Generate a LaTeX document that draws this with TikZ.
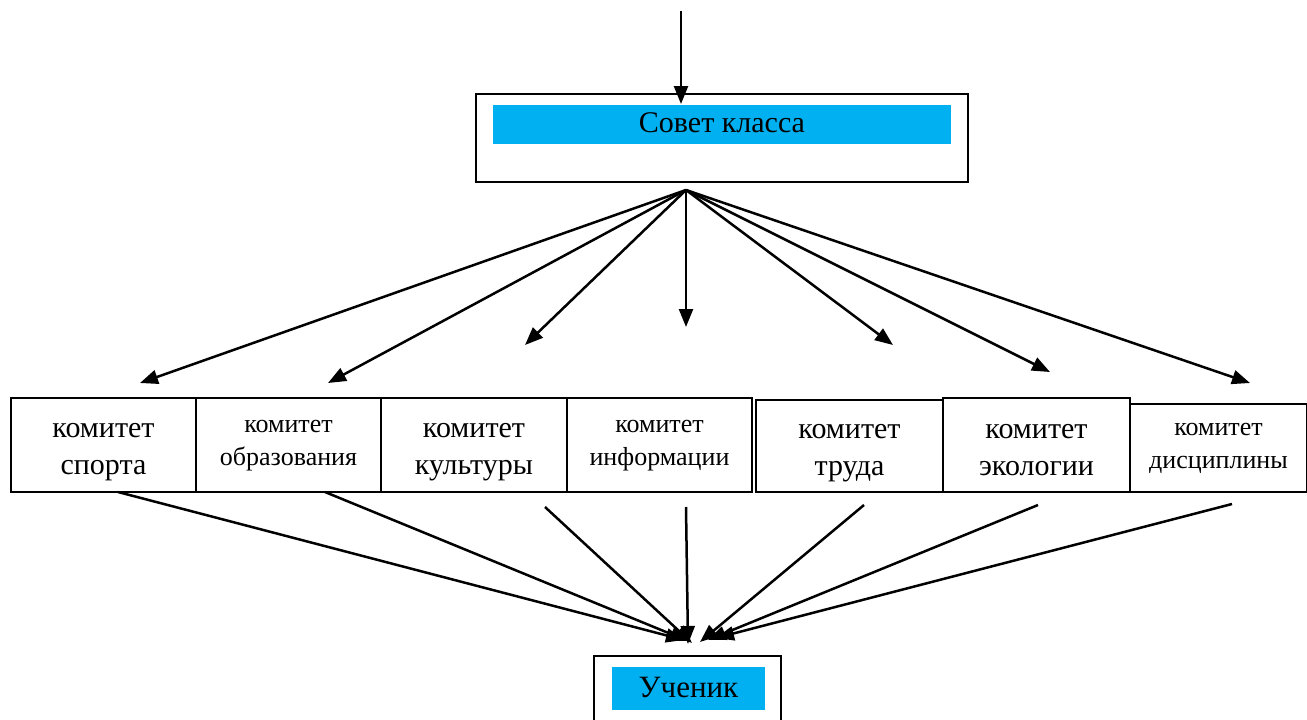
\documentclass[tikz,border=0pt]{standalone}
\usepackage{fontspec}
\setmainfont{Liberation Serif}
\usetikzlibrary{arrows.meta}
\definecolor{barblue}{HTML}{00B0F0}
\newcommand\bstrut{\rule[-6pt]{0pt}{35pt}}
\newcommand\sstrut{\rule[-12pt]{0pt}{32pt}}
\begin{document}
\begin{tikzpicture}[x=1pt,y=-1pt,
  box/.style={draw, line width=1.8pt, inner sep=0pt, outer sep=0pt},
  com/.style={box, minimum width=185pt, minimum height=94pt, align=center},
  big/.style={font=\fontsize{30}{37}\selectfont},
  small/.style={font=\fontsize{26}{29}\selectfont},
  bar/.style={fill=barblue, inner sep=0pt, outer sep=0pt},
  arr/.style={line width=2.5pt, -{Triangle[length=18pt,width=14pt]}},
]
\clip (0,0) rectangle (1307,720);
\useasboundingbox (0,0) rectangle (1307,720);
% top box
\node[box, minimum width=492pt, minimum height=88pt] (sovet) at (722,138) {};
\node[bar, minimum width=458pt, minimum height=39pt, font=\fontsize{30}{35}\selectfont] (sovetbar) at (722,124.5) {\rule[-6pt]{0pt}{28pt}Совет класса};
\coordinate (in) at (681,11);
\coordinate (intip) at (681,104);
\draw[arr] (in) -- (intip);
% committees
\node[com, big] (c1) at (103.5,445) {\bstrut комитет\\\bstrut спорта};
\node[com, small] (c2) at (288.5,445) {\sstrut комитет\\\sstrut образования};
\node[com, big] (c3) at (474,445) {\bstrut комитет\\\bstrut культуры};
\node[com, small] (c4) at (659.5,445) {\sstrut комитет\\\sstrut информации};
\node[com, big, minimum width=187pt, minimum height=92pt] (c5) at (849.5,446) {\bstrut комитет\\\bstrut труда};
\node[com, big, minimum width=187pt] (c6) at (1036.5,445) {\bstrut комитет\\\bstrut экологии};
\node[com, small, minimum width=177pt, minimum height=88pt] (c7) at (1218.5,448) {\sstrut комитет\\\sstrut дисциплины};
% fan from council
\coordinate (fan) at (686,190);
\coordinate (t1) at (140,383);
\coordinate (t2) at (328,383);
\coordinate (t3) at (525,345);
\coordinate (t4) at (686,327);
\coordinate (t5) at (893,345);
\coordinate (t6) at (1050,372);
\coordinate (t7) at (1250,383);
\foreach \i in {1,...,7} \draw[arr] (fan) -- (t\i);
% pupil
\node[box, minimum width=187pt, minimum height=100pt] (uchbox) at (687.5,706) {};
\node[bar, minimum width=153pt, minimum height=43pt, font=\fontsize{31}{37}\selectfont] (uchenik) at (688.5,688.5) {\rule[-5pt]{0pt}{28pt}Ученик};
% to pupil
\coordinate (s1) at (118,492);
\coordinate (s2) at (325,492);
\coordinate (s3) at (545,507);
\coordinate (s4) at (686,507);
\coordinate (s5) at (864,505);
\coordinate (s6) at (1038,505);
\coordinate (s7) at (1232,504);
\coordinate (e1) at (684,640);
\coordinate (e2) at (688,641);
\coordinate (e3) at (692,643);
\coordinate (e4) at (688,644);
\coordinate (e5) at (700,642);
\coordinate (e6) at (708,640);
\coordinate (e7) at (716,638);
\foreach \i in {1,...,7} \draw[arr] (s\i) -- (e\i);
\end{tikzpicture}
\end{document}
